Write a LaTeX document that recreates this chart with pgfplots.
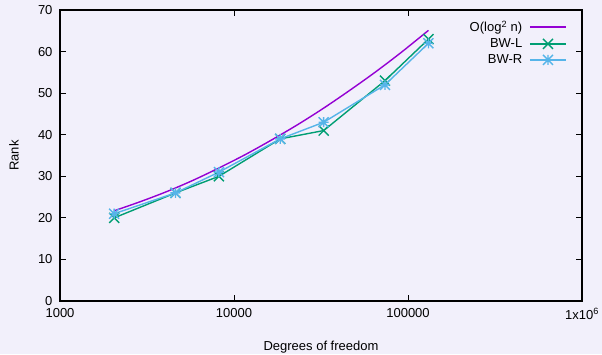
\documentclass[border=0pt]{standalone}
\usepackage{fontspec}
\setmainfont{Liberation Sans}
\usepackage{pgfplots}
\pgfplotsset{compat=1.18}
\definecolor{bg}{RGB}{242,240,251}
\definecolor{cpurple}{RGB}{148,0,211}
\definecolor{cgreen}{RGB}{0,158,115}
\definecolor{cblue}{RGB}{86,180,233}
\pgfdeclareplotmark{gx}{%
 \pgfpathmoveto{\pgfqpoint{-\pgfplotmarksize}{-\pgfplotmarksize}}\pgfpathlineto{\pgfqpoint{\pgfplotmarksize}{\pgfplotmarksize}}%
 \pgfpathmoveto{\pgfqpoint{-\pgfplotmarksize}{\pgfplotmarksize}}\pgfpathlineto{\pgfqpoint{\pgfplotmarksize}{-\pgfplotmarksize}}%
 \pgfusepathqstroke}
\pgfdeclareplotmark{gstar}{%
 \pgfpathmoveto{\pgfqpoint{-\pgfplotmarksize}{0pt}}\pgfpathlineto{\pgfqpoint{\pgfplotmarksize}{0pt}}%
 \pgfpathmoveto{\pgfqpoint{0pt}{-\pgfplotmarksize}}\pgfpathlineto{\pgfqpoint{0pt}{\pgfplotmarksize}}%
 \pgfpathmoveto{\pgfqpoint{-\pgfplotmarksize}{-\pgfplotmarksize}}\pgfpathlineto{\pgfqpoint{\pgfplotmarksize}{\pgfplotmarksize}}%
 \pgfpathmoveto{\pgfqpoint{-\pgfplotmarksize}{\pgfplotmarksize}}\pgfpathlineto{\pgfqpoint{\pgfplotmarksize}{-\pgfplotmarksize}}%
 \pgfusepathqstroke}
\begin{document}
\begin{tikzpicture}
\path[use as bounding box, fill=bg] (-60pt,-53pt) rectangle (542pt,301pt);
\begin{axis}[
  scale only axis, width=522pt, height=291pt,
  xmode=log, log basis x=10,
  xmin=1000, xmax=1000000, ymin=0, ymax=70,
  xtick={1000,10000,100000,1000000},
  xticklabels={1000,10000,100000,1x10\textsuperscript{6}},
  ytick={0,10,...,70},
  /pgf/number format/assume math mode=true,
  tick align=inside, major tick length=6pt, minor tick length=3pt,
  axis line style={line width=1.3pt},
  every tick/.style={black, line width=1pt},
  tick label style={font=\fontsize{13}{15}\selectfont},
  label style={font=\fontsize{13}{15}\selectfont},
  yticklabel style={xshift=-4pt},
  xticklabel style={yshift=-4pt},
  xlabel={Degrees of freedom}, ylabel={Rank},
  xlabel style={at={(axis description cs:0.5,-0.158)}, anchor=center},
  ylabel style={at={(axis description cs:-0.088,0.5)}, anchor=center},
  legend plot pos=right, legend cell align=right,
  legend style={draw=none, fill=none, font=\fontsize{13}{15}\selectfont,
    at={(rel axis cs:0.971,0.97)}, anchor=north east, inner sep=0pt,
    row sep=1.5pt, column sep=5pt},
  legend image code/.code={\draw[mark repeat=2,mark phase=2] plot coordinates {(0pt,0pt) (18pt,0pt) (36pt,0pt)};},
]
\addplot[cpurple, line width=1.4pt, smooth] coordinates {
 (2048,21.7) (2896,23.9) (4096,26.3) (5793,29.0) (8192,32.0) (11585,35.2)
 (16384,38.7) (23170,42.4) (32768,46.4) (46341,50.7) (65536,55.2) (92682,60.0) (131072,65.1)};
\addlegendentry{O(log\textsuperscript{2} n)}
\addplot[cgreen, line width=1.4pt, mark=gx, mark size=5pt] coordinates {
 (2048,20) (4608,26) (8192,30) (18432,39) (32768,41) (73728,53) (131072,63)};
\addlegendentry{BW-L}
\addplot[cblue, line width=1.4pt, mark=gstar, mark size=5pt] coordinates {
 (2048,21) (4608,26) (8192,31) (18432,39) (32768,43) (73728,52) (131072,62)};
\addlegendentry{BW-R}
\end{axis}
\end{tikzpicture}
\end{document}
